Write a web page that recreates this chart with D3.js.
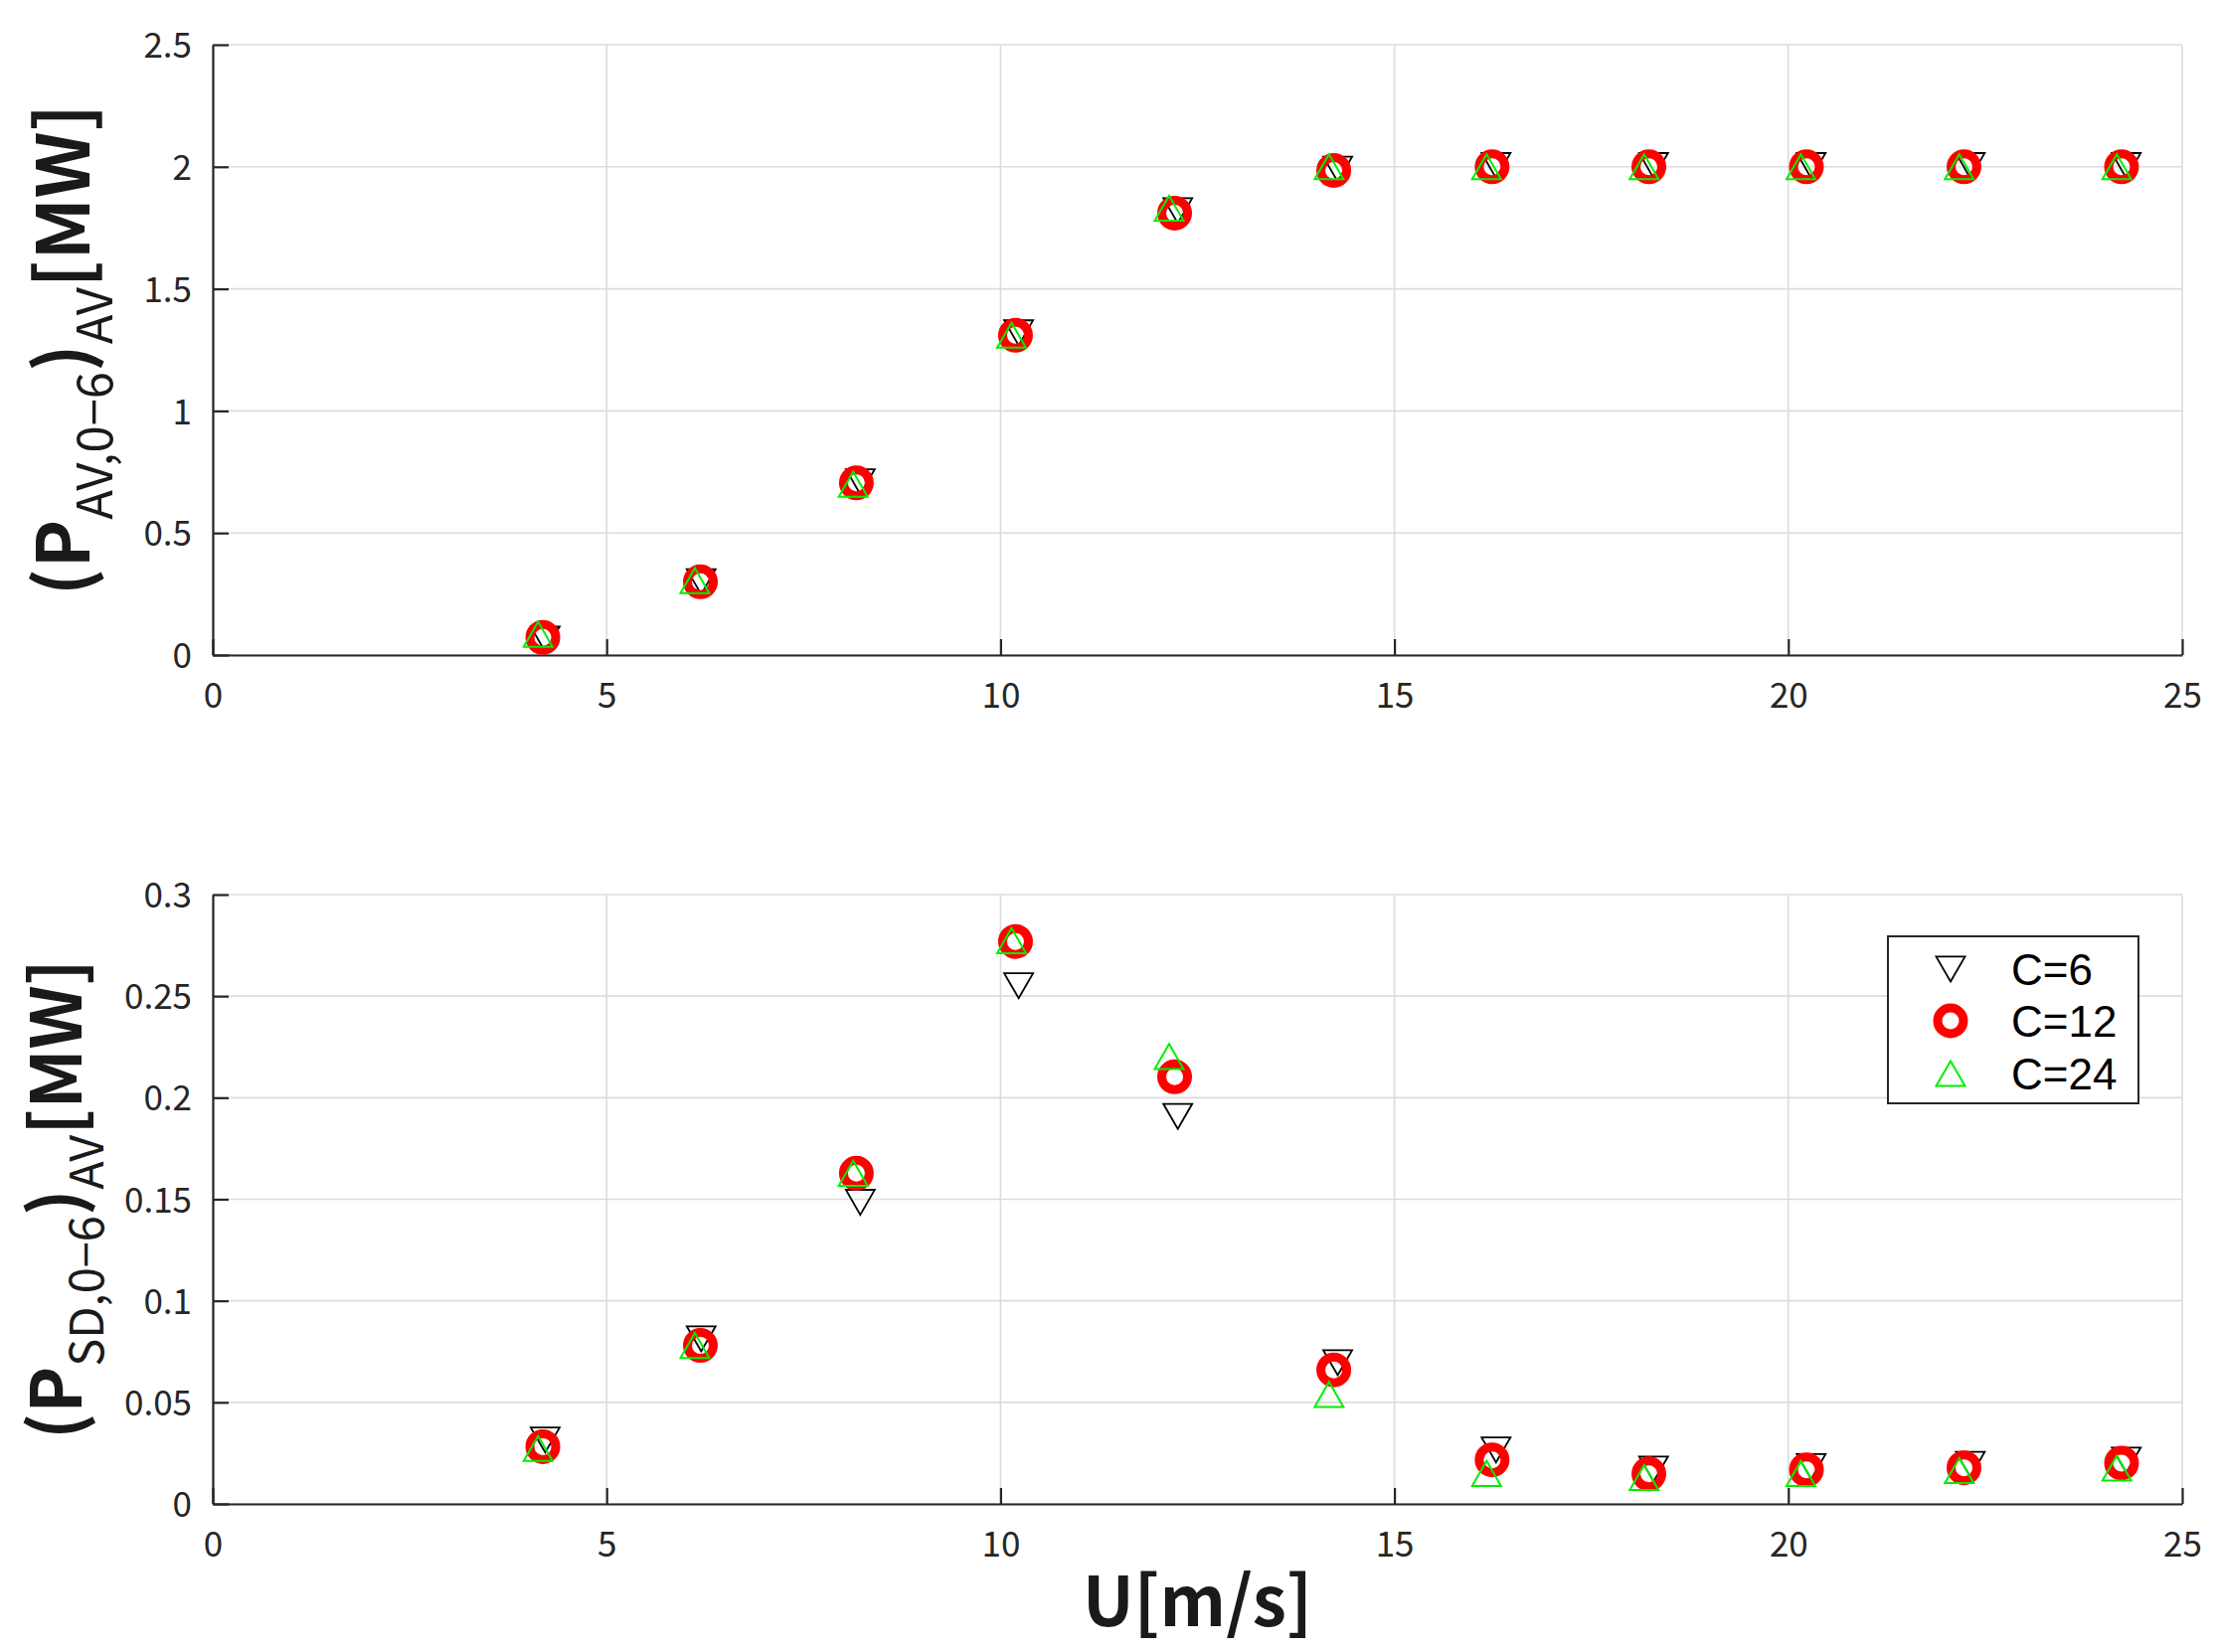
<!DOCTYPE html>
<html><head><meta charset="utf-8">
<script src="https://cdn.jsdelivr.net/npm/d3@7"></script>
<style>
html,body{margin:0;padding:0;background:#fff;}
svg{display:block;}
</style></head>
<body>
<svg id="chart" width="2230" height="1662"></svg>
<script>
// ---- data ----
const seriesNames = ["C=6", "C=12", "C=24"];
const xC6  = [4.22, 6.20, 8.22, 10.23, 12.25, 14.28, 16.29, 18.29, 20.29, 22.31, 24.29];
const xC12 = [4.19, 6.19, 8.17, 10.19, 12.21, 14.23, 16.24, 18.23, 20.23, 22.23, 24.23];
const xC24 = [4.13, 6.12, 8.13, 10.14, 12.14, 14.17, 16.17, 18.17, 20.16, 22.17, 24.17];
const avC6  = [0.065, 0.30, 0.71, 1.32, 1.82, 1.99, 2.005, 2.005, 2.005, 2.005, 2.005];
const avC12 = [0.072, 0.30, 0.705, 1.31, 1.81, 1.985, 2.0, 2.0, 2.0, 2.0, 2.0];
const avC24 = [0.085, 0.305, 0.70, 1.31, 1.83, 2.0, 2.0, 2.0, 2.0, 2.0, 2.0];
const sdC6  = [0.0315, 0.0813, 0.1485, 0.2551, 0.1908, 0.0695, 0.0266, 0.0172, 0.0184, 0.0195, 0.0216];
const sdC12 = [0.0282, 0.0780, 0.1628, 0.2769, 0.2103, 0.0660, 0.0217, 0.0148, 0.0168, 0.0178, 0.0201];
const sdC24 = [0.0273, 0.0780, 0.1628, 0.2773, 0.2203, 0.0539, 0.0150, 0.0130, 0.0150, 0.0164, 0.0176];
const xTicks = [0, 5, 10, 15, 20, 25];
const xTickLabels = ["0", "5", "10", "15", "20", "25"];
const yTopTicks = [0, 0.5, 1, 1.5, 2, 2.5];
const yTopLabels = ["0", "0.5", "1", "1.5", "2", "2.5"];
const yBotTicks = [0, 0.05, 0.1, 0.15, 0.2, 0.25, 0.3];
const yBotLabels = ["0", "0.05", "0.1", "0.15", "0.2", "0.25", "0.3"];

// ---- layout ----
const svg = d3.select("#chart");
const FONT = "'Noto Sans CJK JP','Noto Sans',sans-serif";
const left = 214, right = 2195;
const panels = [
  {top: 45, bottom: 659, domain: [0, 2.5], ticks: yTopTicks, labels: yTopLabels,
   ys: [avC6, avC12, avC24], labelX: 90, fs: 73, sub1: "AV,0\u22126"},
  {top: 900, bottom: 1513, domain: [0, 0.3], ticks: yBotTicks, labels: yBotLabels,
   ys: [sdC6, sdC12, sdC24], labelX: 82, fs: 70, sub1: "SD,0\u22126"}
];
const xs = [xC6, xC12, xC24];
const x = d3.scaleLinear().domain([0, 25]).range([left, right]);

function triPath(s, down) {
  const h = s * Math.sqrt(3) / 2;
  const p = d3.path();
  if (!down) { p.moveTo(0, -h/2); p.lineTo(s/2, h/2); p.lineTo(-s/2, h/2); }
  else { p.moveTo(0, h/2); p.lineTo(s/2, -h/2); p.lineTo(-s/2, -h/2); }
  p.closePath();
  return p.toString();
}
const styles = [
  {draw: g => g.append("path").attr("d", triPath(29, true)).attr("fill", "none").attr("stroke", "#000").attr("stroke-width", 1.8)},
  {draw: g => g.append("circle").attr("r", 13).attr("fill", "none").attr("stroke", "#ff0000").attr("stroke-width", 9)},
  {draw: g => g.append("path").attr("d", triPath(29, false)).attr("fill", "none").attr("stroke", "#00ee00").attr("stroke-width", 2)}
];

panels.forEach(pn => {
  const y = d3.scaleLinear().domain(pn.domain).range([pn.bottom, pn.top]);
  const g = svg.append("g");
  // grid
  g.selectAll(".gx").data(xTicks).enter().append("line")
    .attr("x1", d => x(d)).attr("x2", d => x(d)).attr("y1", pn.top).attr("y2", pn.bottom)
    .attr("stroke", "#dcdcdc").attr("stroke-width", 1.6);
  g.selectAll(".gy").data(pn.ticks).enter().append("line")
    .attr("x1", left).attr("x2", right).attr("y1", d => y(d)).attr("y2", d => y(d))
    .attr("stroke", "#dcdcdc").attr("stroke-width", 1.6);
  // axes
  const xAxis = d3.axisBottom(x).tickValues(xTicks).tickFormat((d, i) => xTickLabels[i])
    .tickSizeInner(-16).tickSizeOuter(0).tickPadding(28);
  const ax = g.append("g").attr("transform", `translate(0,${pn.bottom})`).call(xAxis);
  const yAxis = d3.axisLeft(y).tickValues(pn.ticks).tickFormat((d, i) => pn.labels[i])
    .tickSizeInner(-16).tickSizeOuter(0).tickPadding(21);
  const ay = g.append("g").attr("transform", `translate(${left},0)`).call(yAxis);
  [ax, ay].forEach(a => {
    a.select(".domain").attr("stroke", "#262626").attr("stroke-width", 2.2);
    a.selectAll(".tick line").attr("stroke", "#262626").attr("stroke-width", 2.2);
    a.selectAll(".tick text").attr("fill", "#262626").style("font-family", FONT).style("font-size", "35px");
  });
  ay.selectAll(".tick text").attr("dy", "0.36em");
  ax.selectAll(".tick text").attr("dy", "0.72em");
  // points
  pn.ys.forEach((ys, si) => {
    const pts = ys.map((v, i) => [xs[si][i], v]);
    const sg = g.append("g");
    pts.forEach(p => {
      const mg = sg.append("g").attr("transform", `translate(${x(p[0])},${y(p[1])})`);
      styles[si].draw(mg);
    });
  });
  // y label
  const cy = (pn.top + pn.bottom) / 2;
  const sub = Math.round(pn.fs * 0.67), sh = Math.round(pn.fs * 0.31);
  const t = svg.append("text").attr("transform", `translate(${pn.labelX},${cy}) rotate(-90)`)
    .attr("text-anchor", "middle").style("font-family", FONT).attr("fill", "#1a1a1a");
  t.append("tspan").style("font-size", pn.fs + "px").style("font-weight", "bold").text("(P");
  t.append("tspan").style("font-size", sub + "px").attr("dy", sh).text(pn.sub1);
  t.append("tspan").style("font-size", pn.fs + "px").style("font-weight", "bold").attr("dy", -sh).text(")");
  t.append("tspan").style("font-size", sub + "px").attr("dy", sh).text("AV");
  t.append("tspan").style("font-size", pn.fs + "px").style("font-weight", "bold").attr("dy", -sh).text("[MW]");
});

// x label
svg.append("text").attr("x", (left + right) / 2).attr("y", 1636).attr("text-anchor", "middle")
  .style("font-family", FONT).style("font-size", "69px").style("font-weight", "bold")
  .attr("fill", "#1a1a1a").text("U[m/s]");

// legend
const lg = svg.append("g");
lg.append("rect").attr("x", 1899).attr("y", 942).attr("width", 252).attr("height", 168)
  .attr("fill", "#fff").attr("stroke", "#262626").attr("stroke-width", 2);
const rowY = [975, 1027, 1080];
seriesNames.forEach((nm, i) => {
  const mg = lg.append("g").attr("transform", `translate(1962,${rowY[i]})`);
  styles[i].draw(mg);
  lg.append("text").attr("x", 2023).attr("y", rowY[i]).attr("dy", "0.36em")
    .style("font-family", "'Liberation Sans',Arial,sans-serif").style("font-size", "44px")
    .attr("fill", "#000").text(nm);
});
</script>
</body></html>
